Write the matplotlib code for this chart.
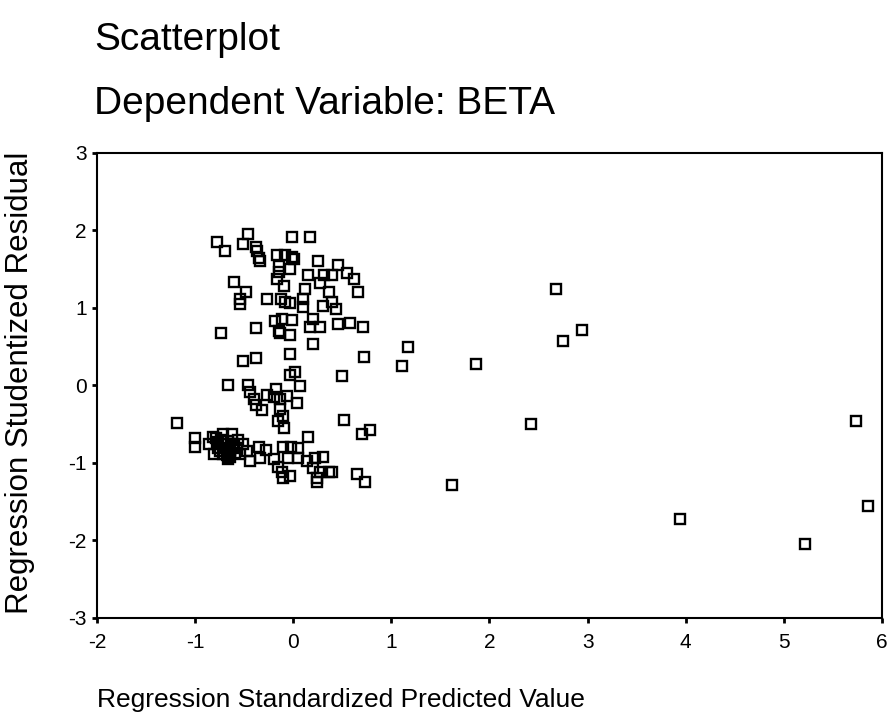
import matplotlib.pyplot as plt

plt.rcParams['font.family'] = ['Liberation Sans', 'DejaVu Sans']

# standardized predicted value (x) / studentized residual (y)
pred = [
    -0.78, -0.70, -0.46, -0.51, -0.38, -0.37, -0.35, -0.34, -0.01, 0.17,
    -0.17, -0.08, -0.01, 0.01, -0.03, -0.15, -0.15, 0.25, 0.46, 0.55,
    0.62, 0.15, 0.31, 0.40, -0.17, 0.27, 0.36, 0.66, -0.09, 0.12,
    -0.60, -0.48, -0.54, -0.54, -0.27, -0.12, -0.08, -0.03, 0.10, 0.30,
    0.40, 0.44, 0.10, -0.74, -0.38, -0.19, -0.15, -0.11, -0.01, -0.13,
    -0.03, 0.20, 0.17, 0.27, 0.46, 0.58, 0.71, 0.20, -0.03, 0.72,
    -0.51, -0.38, -0.03, 0.02, 0.50, -0.67, -0.46, -0.44, -0.40, -0.38,
    -0.32, -0.27, -0.18, -0.20, -0.14, -0.06, 0.04, 0.07, -0.13, -0.10,
    -0.16, -0.09, -1.18, -1.00, -1.00,
    -0.82, -0.74, -0.62, -0.61, -0.77, -0.69, -0.57, -0.51, -0.81, -0.72,
    -0.64, -0.54, -0.44, -0.67, -0.47, -0.86, -0.66, -0.56, -0.70, -0.64,
    -0.78, -0.59, -0.72, -0.75, -0.68, -0.60, -0.79, -0.66,
    -0.35, -0.28, -0.34, -0.20, -0.16, -0.11, -0.03, -0.10, -0.10, -0.02,
    0.05, 0.05, -0.05, 0.15, 0.14, 0.22, 0.30, 0.20, 0.27, 0.24,
    0.39, 0.24, 0.52, 0.70, 0.78, 0.65, 0.73, 0.36,
    2.68, 2.75, 2.94, 1.86, 1.17, 1.11, 2.42, 1.62, 3.94, 5.22, 5.74, 5.86,
]
resid = [
    1.85, 1.74, 1.96, 1.82, 1.79, 1.73, 1.65, 1.60, 1.91, 1.91,
    1.69, 1.69, 1.66, 1.63, 1.50, 1.54, 1.47, 1.61, 1.56, 1.45,
    1.38, 1.43, 1.42, 1.42, 1.37, 1.32, 1.21, 1.21, 1.28, 1.25,
    1.33, 1.21, 1.11, 1.05, 1.12, 1.11, 1.08, 1.07, 1.12, 1.02,
    1.08, 0.99, 1.01, 0.68, 0.74, 0.83, 0.70, 0.86, 0.85, 0.68,
    0.65, 0.86, 0.76, 0.76, 0.79, 0.81, 0.76, 0.53, 0.40, 0.37,
    0.32, 0.35, 0.14, 0.17, 0.12, 0.00, 0.00, -0.09, -0.17, -0.25,
    -0.32, -0.12, -0.04, -0.15, -0.17, -0.14, -0.22, -0.01, -0.30, -0.40,
    -0.46, -0.55, -0.49, -0.68, -0.79,
    -0.66, -0.70, -0.63, -0.75, -0.81, -0.81, -0.81, -0.76, -0.88, -0.89,
    -0.92, -0.89, -0.98, -0.95, -0.85, -0.76, -0.72, -0.70, -0.76, -0.83,
    -0.73, -0.87, -0.62, -0.84, -0.90, -0.78, -0.68, -0.86,
    -0.79, -0.83, -0.94, -0.95, -1.05, -1.11, -1.17, -1.19, -0.79, -0.79,
    -0.81, -0.93, -0.93, -0.66, -0.97, -0.94, -0.92, -1.07, -1.11, -1.20,
    -1.12, -1.25, -0.45, -0.63, -0.58, -1.14, -1.24, -1.11,
    1.24, 0.58, 0.72, 0.28, 0.50, 0.25, -0.50, -1.29, -1.72, -2.05, -0.46, -1.56,
]

x_ticks = [-2, -1, 0, 1, 2, 3, 4, 5, 6]
y_ticks = [-3, -2, -1, 0, 1, 2, 3]

fig = plt.figure(figsize=(8.95, 7.25), dpi=100)
ax = fig.add_axes([0.1084, 0.1476, 0.877, 0.6414])

ax.plot(pred, resid, 's', mfc='none', mec='black', ms=6.5, mew=1.7, ls='none')

ax.set_xlim(-2, 6)
ax.set_ylim(-3, 3)
ax.set_xticks(x_ticks)
ax.set_yticks(y_ticks)
ax.set_xticklabels([str(t) for t in x_ticks])
ax.set_yticklabels([str(t) for t in y_ticks])
ax.tick_params(direction='out', length=3.5, width=2, labelsize=15, colors='black')
ax.tick_params(axis='x', pad=7)
ax.tick_params(axis='y', pad=4)
for s in ax.spines.values():
    s.set_linewidth(1.5)
    s.set_color('black')

fig.text(0.105, 0.931, 'Scatterplot', fontsize=28, va='baseline', ha='left')
fig.text(0.105, 0.843, 'Dependent Variable: BETA', fontsize=28, va='baseline', ha='left')
fig.text(0.108, 0.025, 'Regression Standardized Predicted Value', fontsize=19,
         va='baseline', ha='left')
fig.text(0.022, 0.472, 'Regression Studentized Residual', fontsize=22.5, rotation=90,
         va='center', ha='center')

fig.savefig('out.png', dpi=100)
